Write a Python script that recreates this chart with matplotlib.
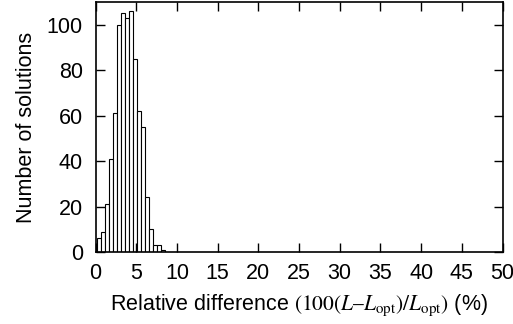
import matplotlib
matplotlib.use("Agg")
import matplotlib.pyplot as plt
import numpy as np

# Data: histogram of relative differences
bin_centers = [0.46, 0.95, 1.44, 1.92, 2.41, 2.90, 3.39, 3.87, 4.36,
               4.85, 5.34, 5.82, 6.31, 6.80, 7.29, 7.77, 8.26]
counts = [6, 9, 21, 41, 61, 100, 105, 103, 106, 85, 62, 55, 24, 10, 3, 3, 1]
xticks = [0, 5, 10, 15, 20, 25, 30, 35, 40, 45, 50]
yticks = [0, 20, 40, 60, 80, 100]

FS = 15.5
plt.rcParams['font.family'] = ['Liberation Sans', 'DejaVu Sans']
plt.rcParams['font.size'] = FS

fig = plt.figure(figsize=(5.13, 3.24), dpi=100)
ax = fig.add_axes([95.5/513, 72/324, (502.5-95.5)/513, (322-72)/324])

ax.bar(bin_centers, counts, width=0.4875, color='white', edgecolor='black',
       linewidth=0.8, align='center')

ax.set_xlim(0, 50)
ax.set_ylim(0, 110)
ax.set_xticks(xticks)
ax.set_yticks(yticks)
ax.tick_params(direction='in', length=6.5, width=1.0, top=True, right=True,
               labelsize=FS)
ax.tick_params(axis='x', pad=8)
ax.tick_params(axis='y', pad=9)
for s in ax.spines.values():
    s.set_linewidth(1.2)

ax.set_ylabel('Number of solutions', fontsize=FS, labelpad=7)
ax.set_xlabel(r'Relative difference $(100(L\text{–}L_{\rm opt})/L_{\rm opt})$ (%)',
              fontsize=FS, labelpad=6, math_fontfamily='stix')

fig.savefig('out.png', dpi=100)
